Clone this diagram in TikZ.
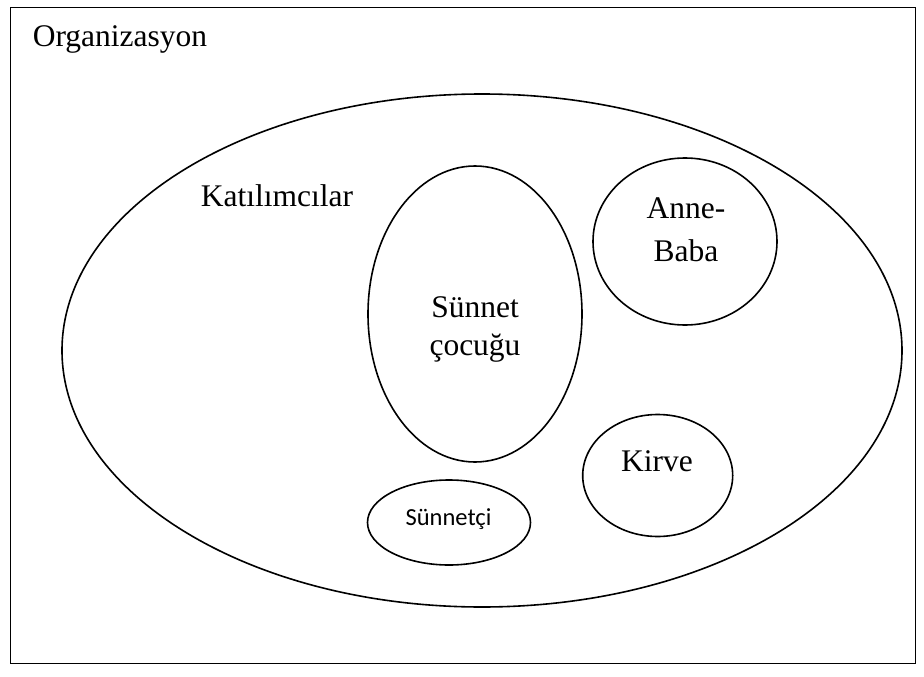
\documentclass[tikz,border=0pt]{standalone}
\usepackage{fontspec}
\setmainfont{Liberation Serif}
\newfontfamily\calib{Carlito}
\usetikzlibrary{shapes.geometric}
\begin{document}
\begin{tikzpicture}[x=1pt,y=-1pt,line width=1.6pt,
  oval/.style={draw,ellipse,inner sep=0pt},
  txt/.style={font=\fontsize{31.5}{38}\selectfont,inner sep=0pt,anchor=base},
  smalltxt/.style={font=\calib\fontsize{24.5}{30}\selectfont,inner sep=0pt,anchor=base}]
\useasboundingbox (0,0) rectangle (924,677);
\node[draw,line width=1.3pt,minimum width=905pt,minimum height=656pt,anchor=north west,inner sep=0pt] (org) at (10,7) {};
\node[txt,anchor=base west] (orgt) at (32,47) {Organizasyon};
\node[oval,minimum width=840pt,minimum height=513pt] (kat) at (482,350.5) {};
\node[txt,anchor=base west] (katt) at (200,206) {Katılımcılar};
\node[oval,minimum width=214pt,minimum height=296pt] (cocuk) at (475,314) {};
\node[txt] (cocukt1) at (475,317) {Sünnet};
\node[txt] (cocukt2) at (475,355) {çocuğu};
\node[oval,minimum width=184pt,minimum height=167pt] (anne) at (685,241.5) {};
\node[txt] (annet1) at (686,218) {Anne-};
\node[txt] (annet2) at (686,261) {Baba};
\node[oval,minimum width=150pt,minimum height=122pt] (kirve) at (657.7,475.5) {};
\node[txt] (kirvet) at (657,471) {Kirve};
\node[oval,minimum width=163pt,minimum height=85pt] (sunnetci) at (449,522.5) {};
\node[smalltxt] (sunnetcit) at (448.5,525) {Sünnetçi};
\end{tikzpicture}
\end{document}
